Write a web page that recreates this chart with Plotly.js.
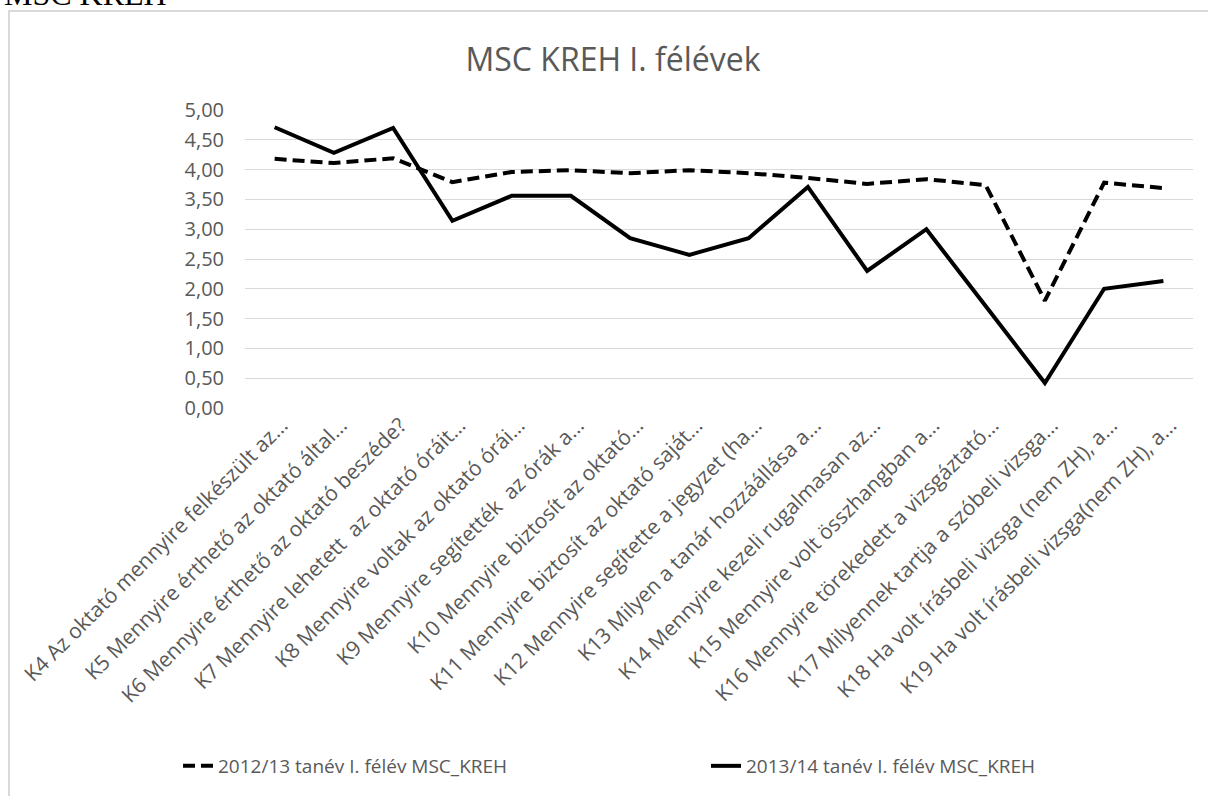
<!DOCTYPE html>
<html>
<head>
<meta charset="utf-8">
<script src="https://cdn.plot.ly/plotly-3.0.1.min.js"></script>
<style>
  html, body { margin: 0; padding: 0; background: #ffffff; overflow: hidden; }
  #frame { position: absolute; left: 8px; top: 10px; width: 1400px; height: 1000px;
           border: 2px solid #d9d9d9; box-sizing: border-box; }
  #chart { position: absolute; left: 0; top: 0; width: 1208px; height: 796px; }
  #cap { position: absolute; left: 0; top: 0; }
</style>
</head>
<body>
<div id="frame"></div>
<svg id="cap" width="400" height="40"><text x="4" y="5" font-family="Liberation Serif, Times New Roman, serif" font-size="32" fill="#000">MSC KREH</text></svg>
<div id="chart"></div>
<script>
const categories = [
  "K4 Az oktató mennyire felkészült az…",
  "K5 Mennyire érthető az oktató által…",
  "K6 Mennyire érthető az oktató beszéde?",
  "K7 Mennyire lehetett\u00a0 az oktató óráit…",
  "K8 Mennyire voltak az oktató órái…",
  "K9 Mennyire segítették\u00a0 az órák a…",
  "K10 Mennyire biztosít az oktató…",
  "K11 Mennyire biztosít az oktató saját…",
  "K12 Mennyire segítette a jegyzet (ha…",
  "K13 Milyen a tanár hozzáállása a…",
  "K14 Mennyire kezeli rugalmasan az…",
  "K15 Mennyire volt összhangban a…",
  "K16 Mennyire törekedett a vizsgáztató…",
  "K17 Milyennek tartja a szóbeli vizsga…",
  "K18 Ha volt írásbeli vizsga (nem ZH), a…",
  "K19 Ha volt írásbeli vizsga(nem ZH), a…"
];
const series2012Name = "2012/13 tanév I. félév MSC_KREH";
const series2012 = [4.18, 4.11, 4.19, 3.79, 3.96, 3.99, 3.94, 3.99, 3.94, 3.86, 3.76, 3.84, 3.74, 1.80, 3.78, 3.69];
const series2013Name = "2013/14 tanév I. félév MSC_KREH";
const series2013 = [4.71, 4.28, 4.70, 3.14, 3.56, 3.56, 2.85, 2.57, 2.85, 3.71, 2.30, 3.00, 1.71, 0.42, 2.00, 2.13];
const yTicks = [0, 0.5, 1, 1.5, 2, 2.5, 3, 3.5, 4, 4.5, 5];
const chartTitle = "MSC KREH I. félévek";

const grey = "#595959";
const legendFont = { family: "Open Sans, sans-serif", size: 19, color: grey };
const traces = [
  { type: "scatter", mode: "lines", name: series2012Name, x: categories, y: series2012,
    legend: "legend", line: { color: "#000000", width: 4, dash: "12px,6px" } },
  { type: "scatter", mode: "lines", name: series2013Name, x: categories, y: series2013,
    legend: "legend2", line: { color: "#000000", width: 4 } }
];
const layout = {
  width: 1208, height: 796,
  paper_bgcolor: "rgba(0,0,0,0)", plot_bgcolor: "rgba(0,0,0,0)",
  margin: { l: 245, r: 15, t: 110, b: 388 },
  separators: ", ",
  title: { text: chartTitle, xref: "container", x: 613/1208, xanchor: "center",
           yref: "container", y: 1 - 60/796, yanchor: "middle",
           font: { family: "Open Sans, sans-serif", size: 32, color: grey } },
  xaxis: { type: "category", range: [-0.5, 15.5], tickangle: -45, showgrid: false,
           zeroline: false, showline: false, ticks: "", ticklabelshift: 7,
           tickfont: { family: "Open Sans, sans-serif", size: 21, color: grey } },
  yaxis: { range: [0, 5], tickvals: yTicks, tickformat: ".2f", showgrid: true,
           gridcolor: "#d9d9d9", gridwidth: 1, zeroline: false, showline: false, ticks: "",
           ticklabelstandoff: 20,
           tickfont: { family: "Open Sans, sans-serif", size: 20, color: grey } },
  showlegend: true,
  legend: { orientation: "h", xref: "container", yref: "container",
            x: 178/1208, xanchor: "left", y: 1 - 766/796, yanchor: "middle",
            font: legendFont },
  legend2: { orientation: "h", xref: "container", yref: "container",
            x: 706/1208, xanchor: "left", y: 1 - 766/796, yanchor: "middle",
            font: legendFont },
  hovermode: false
};
Plotly.newPlot("chart", traces, layout, { displayModeBar: false, staticPlot: true });
</script>
</body>
</html>
